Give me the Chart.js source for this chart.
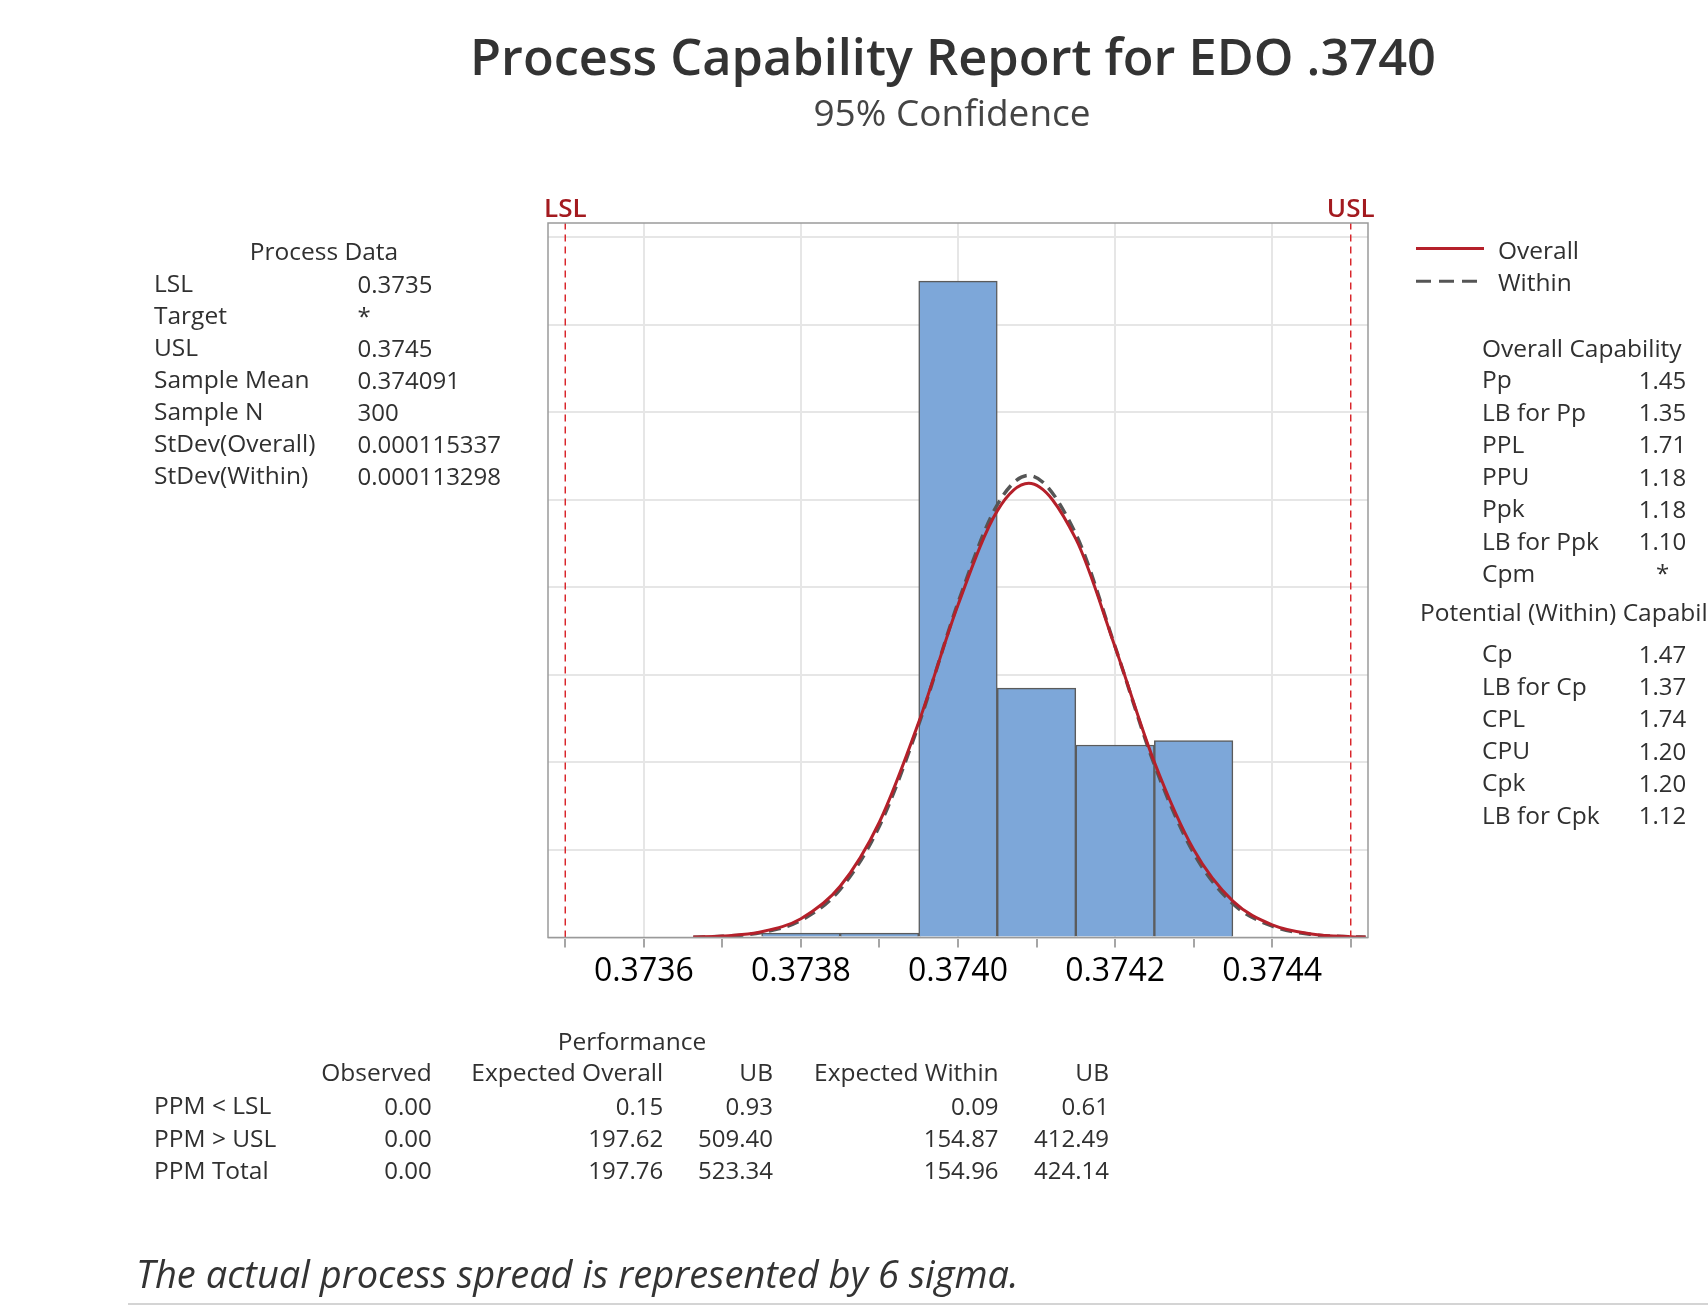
<!DOCTYPE html>
<html>
<head>
<meta charset="utf-8">
<script src="https://cdn.jsdelivr.net/npm/chart.js@4.4.1/dist/chart.umd.min.js"></script>
<style>
  html, body { margin: 0; padding: 0; background: #fff; }
  body { width: 1708px; height: 1306px; position: relative; overflow: hidden;
         font-family: "Open Sans", "Noto Sans", sans-serif; color: #303030; }
  #area { position: absolute; left: 0; top: 0; }
  .t { position: absolute; white-space: nowrap; line-height: 1; }
</style>
</head>
<body>
<canvas id="area" width="1708" height="1306"></canvas>
<script>
// histogram, bin width 0.0001
var binCenters = [0.3738, 0.3739, 0.3740, 0.3741, 0.3742, 0.3743];
var binCounts = [1, 1, 150, 57, 44, 45];

// fitted normal curves (count scale)
var curveX = [0.373663, 0.37370, 0.37375, 0.37380, 0.37385, 0.37390, 0.37395, 0.37400, 0.37405,
              0.37409, 0.37415, 0.37420, 0.37425, 0.37430, 0.37435, 0.37440, 0.37445, 0.37450, 0.374519];
var overallY = [0.11, 0.33, 1.31, 4.30, 11.7, 26.4, 49.2, 76.0, 97.5,
                103.8, 91.1, 66.4, 40.1, 20.1, 8.3, 2.9, 0.82, 0.19, 0.11];
var withinY = [0.08, 0.27, 1.14, 3.91, 11.0, 25.5, 48.7, 76.5, 98.9,
               105.6, 92.2, 66.5, 39.5, 19.3, 7.7, 2.6, 0.70, 0.16, 0.08];

var specX = [0.3735, 0.3745];
var specNames = ["LSL", "USL"];
var tickLabels = ["0.3736", "0.3738", "0.3740", "0.3742", "0.3744"];

var processLabels = ["LSL", "Target", "USL", "Sample Mean", "Sample N", "StDev(Overall)", "StDev(Within)"];
var processValues = ["0.3735", "*", "0.3745", "0.374091", "300", "0.000115337", "0.000113298"];
var overallLabels = ["Pp", "LB for Pp", "PPL", "PPU", "Ppk", "LB for Ppk", "Cpm"];
var overallValues = ["1.45", "1.35", "1.71", "1.18", "1.18", "1.10", "*"];
var potentialLabels = ["Cp", "LB for Cp", "CPL", "CPU", "Cpk", "LB for Cpk"];
var potentialValues = ["1.47", "1.37", "1.74", "1.20", "1.20", "1.12"];
var perfHeaders = ["Observed", "Expected Overall", "UB", "Expected Within", "UB"];
var perfRows = ["PPM < LSL", "PPM > USL", "PPM Total"];
var perfObserved = ["0.00", "0.00", "0.00"];
var perfExpOverall = ["0.15", "197.62", "197.76"];
var perfUBOverall = ["0.93", "509.40", "523.34"];
var perfExpWithin = ["0.09", "154.87", "154.96"];
var perfUBWithin = ["0.61", "412.49", "424.14"];

var yMax = 163.3;

function put(text, x, base, size, align, extra) {
  var d = document.createElement("div");
  d.className = "t";
  d.textContent = text;
  d.style.fontSize = size + "px";
  d.style.left = x + "px";
  d.style.top = (base - 0.888 * size) + "px";
  if (align === "right") d.style.transform = "translateX(-100%)";
  if (align === "center") d.style.transform = "translateX(-50%)";
  if (extra) Object.assign(d.style, extra);
  document.body.appendChild(d);
}

// titles
put("Process Capability Report for EDO .3740", 953, 76, 50.5, "center", { fontWeight: 600, color: "#333" });
put("95% Confidence", 952, 126, 37, "center", { color: "#444" });

// process data
put("Process Data", 324, 261, 24.5, "center");
processLabels.forEach(function (s, i) {
  put(s, 154, 293 + 32 * i, 24.5);
  put(processValues[i], 357.5, 293 + 32 * i, 24);
});

// capability
put("Overall Capability", 1482, 358, 24.5);
overallLabels.forEach(function (s, i) {
  put(s, 1482, 389 + 32.3 * i, 24.5);
  put(overallValues[i], 1662.5, 389 + 32.3 * i, 24, "center");
});
put("Potential (Within) Capability", 1420, 621.5, 24.5);
potentialLabels.forEach(function (s, i) {
  put(s, 1482, 663 + 32.3 * i, 24.5);
  put(potentialValues[i], 1662.5, 663 + 32.3 * i, 24, "center");
});

// performance
put("Performance", 632, 1051, 24.5, "center");
var perfCols = [431.7, 663.2, 773, 998.6, 1109];
var perfData = [perfObserved, perfExpOverall, perfUBOverall, perfExpWithin, perfUBWithin];
perfHeaders.forEach(function (h, j) { put(h, perfCols[j], 1082, 24.5, "right"); });
perfRows.forEach(function (r, i) {
  put(r, 154, 1115 + 32.3 * i, 24.5);
  perfData.forEach(function (col, j) { put(col[i], perfCols[j], 1115 + 32.3 * i, 24, "right"); });
});
put("The actual process spread is represented by 6 sigma.", 136, 1288, 38, "left", { fontStyle: "italic", color: "#333" });

var rule = document.createElement("div");
rule.style.cssText = "position:absolute;left:128px;top:1303px;width:1580px;height:2px;background:#d4d4d4;";
document.body.appendChild(rule);

// legend
put("Overall", 1498, 260, 24.5);
put("Within", 1498, 291.5, 24.5);
var ns = "http://www.w3.org/2000/svg";
var svg = document.createElementNS(ns, "svg");
svg.setAttribute("width", "90"); svg.setAttribute("height", "60");
svg.style.cssText = "position:absolute;left:1410px;top:235px;";
[[13.5, "#b5202a", ""], [46.3, "#555", "15 8"]].forEach(function (l) {
  var ln = document.createElementNS(ns, "line");
  ln.setAttribute("x1", "6"); ln.setAttribute("x2", "74");
  ln.setAttribute("y1", l[0]); ln.setAttribute("y2", l[0]);
  ln.setAttribute("stroke", l[1]); ln.setAttribute("stroke-width", "3");
  if (l[2]) ln.setAttribute("stroke-dasharray", l[2]);
  svg.appendChild(ln);
});
document.body.appendChild(svg);

var frame = {
  id: "frame",
  afterDatasetsDraw: function (chart) {
    var a = chart.chartArea, c = chart.ctx;
    c.save();
    c.strokeStyle = "#9a9a9a";
    c.lineWidth = 1.5;
    c.strokeRect(a.left, a.top, a.right - a.left, a.bottom - a.top);
    c.restore();
  },
  afterDraw: function (chart) {
    var c = chart.ctx, x = chart.scales.x, top = chart.chartArea.top;
    c.save();
    c.font = "600 26px 'Open Sans'";
    c.fillStyle = "#a31a1f";
    c.textAlign = "center";
    c.textBaseline = "alphabetic";
    specX.forEach(function (v, i) { c.fillText(specNames[i], x.getPixelForValue(v), top - 6); });
    c.restore();
  }
};

var ctx = document.getElementById("area");
var myChart = new Chart(ctx, {
  type: "bar",
  data: {
    datasets: [
      {
        type: "bar",
        label: "Histogram",
        data: binCenters.map(function (c, i) { return { x: c, y: binCounts[i] }; }),
        backgroundColor: "#7da7d9",
        borderColor: "#5b5b5b",
        borderWidth: 1.5,
        barPercentage: 1,
        categoryPercentage: 1,
        order: 4
      },
      {
        type: "line",
        label: "Within",
        data: curveX.map(function (x, i) { return { x: x, y: withinY[i] }; }),
        borderColor: "#555",
        borderWidth: 3.5,
        borderDash: [12, 7],
        pointRadius: 0,
        cubicInterpolationMode: "monotone",
        fill: false,
        order: 3
      },
      {
        type: "line",
        label: "Overall",
        data: curveX.map(function (x, i) { return { x: x, y: overallY[i] }; }),
        borderColor: "#b5202a",
        borderWidth: 3,
        pointRadius: 0,
        cubicInterpolationMode: "monotone",
        fill: false,
        order: 2
      }
    ].concat(specX.map(function (v, i) {
      return {
        type: "line",
        label: specNames[i],
        data: [{ x: v, y: 0 }, { x: v, y: yMax }],
        borderColor: "#d9262b",
        borderWidth: 1.5,
        borderDash: [7, 5],
        pointRadius: 0,
        fill: false,
        order: 1
      };
    }))
  },
  options: {
    responsive: false,
    animation: false,
    devicePixelRatio: 1,
    layout: { padding: { left: 548, right: 340, top: 223, bottom: 308.5 } },
    plugins: { legend: { display: false }, tooltip: { enabled: false }, title: { display: false } },
    scales: {
      x: {
        type: "linear",
        min: 0.373478,
        max: 0.374522,
        offset: false,
        afterFit: function (s) { s.height = 60; },
        border: { display: false },
        grid: {
          offset: false,
          lineWidth: 2,
          color: function (c) {
            var s = c.tick ? c.tick.value.toFixed(4) : "";
            return tickLabels.indexOf(s) >= 0 ? "#e6e6e6" : "rgba(0,0,0,0)";
          },
          tickColor: "#888",
          tickWidth: 1.5,
          tickLength: 10
        },
        ticks: {
          stepSize: 0.0001,
          includeBounds: false,
          autoSkip: false,
          maxRotation: 0,
          padding: 5,
          color: "#000",
          font: { family: "'Open Sans'", size: 32 },
          callback: function (v) {
            var s = v.toFixed(4);
            return tickLabels.indexOf(s) >= 0 ? s : "";
          }
        }
      },
      y: {
        min: 0,
        max: yMax,
        afterFit: function (s) { s.width = 0; },
        border: { display: false },
        grid: { color: "#e6e6e6", lineWidth: 2, drawTicks: false },
        ticks: { display: false, stepSize: 20, includeBounds: false }
      }
    }
  },
  plugins: [frame]
});
</script>
</body>
</html>
